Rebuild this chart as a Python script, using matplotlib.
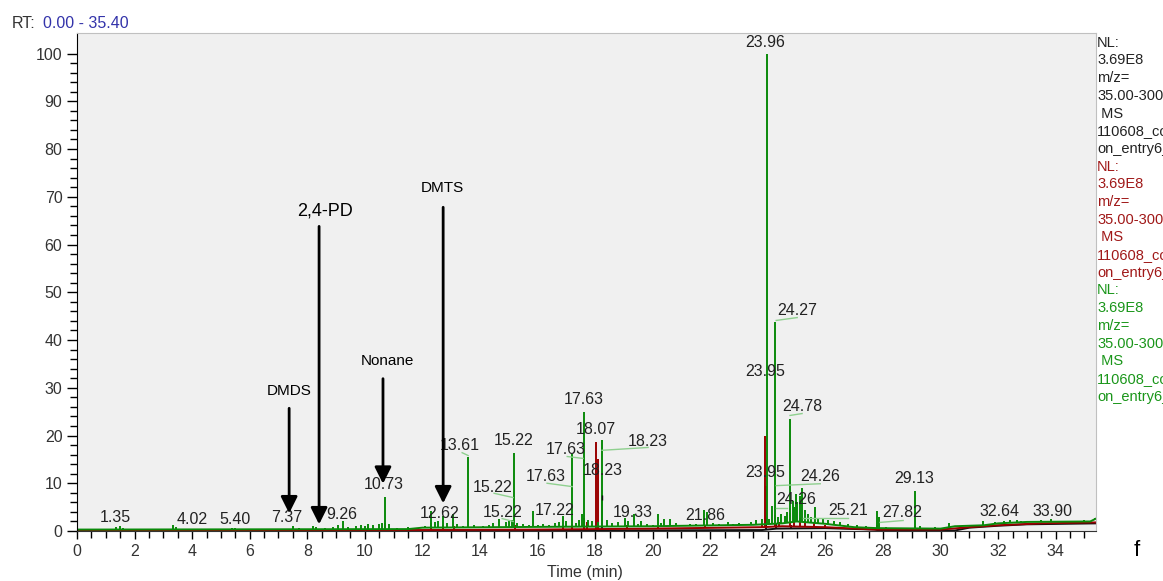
import numpy as np
import matplotlib.pyplot as plt

plt.rcParams['font.family'] = ['Liberation Sans', 'DejaVu Sans']

# chromatogram peaks (time in min, relative abundance %)
green_t = [1.35, 1.5, 1.6, 2.0, 2.4, 3.35, 3.45, 4.0, 4.6, 5.4, 5.5, 6.4, 7.1, 7.5, 7.7,
           8.2, 8.3, 8.6, 8.9, 9.05, 9.25, 9.4, 9.7, 9.85, 10.0, 10.1, 10.3, 10.5, 10.6,
           10.7, 10.85, 11.1, 11.5, 11.9, 12.1,
           12.3, 12.45, 12.55, 12.7, 12.85, 13.05, 13.2, 13.4, 13.58, 13.8, 14.1, 14.3,
           14.45, 14.65, 14.9, 15.0, 15.1, 15.17, 15.3, 15.5, 15.7, 15.83, 16.0, 16.2,
           16.4, 16.6, 16.75, 16.88, 17.0, 17.19, 17.35, 17.45, 17.53, 17.6, 17.75, 17.9,
           18.1, 18.23, 18.4, 18.6, 18.8, 19.03, 19.13, 19.34, 19.5, 19.58, 19.8, 20.0,
           20.17, 20.3, 20.4, 20.6, 20.8, 21.0, 21.3, 21.5, 21.77, 21.9, 22.1, 22.3, 22.6,
           22.8, 23.0, 23.2, 23.4, 23.6, 23.8, 23.96,
           24.05, 24.15, 24.24, 24.35, 24.45, 24.58, 24.65, 24.76, 24.86, 24.92, 24.97,
           25.03, 25.1, 25.2, 25.3, 25.4, 25.5, 25.63, 25.75, 25.9, 26.1, 26.3, 26.5, 26.8,
           27.1, 27.4, 27.78, 27.85, 28.1, 28.5, 29.1, 29.3, 29.8, 30.3, 30.8, 31.46, 31.9,
           32.2, 32.4, 32.64, 32.8, 33.2, 33.5, 33.85, 34.2, 34.6, 35.0, 35.35]
green_h = [0.9, 1.0, 0.6, 0.4, 0.4, 1.2, 0.9, 0.5, 0.4, 0.6, 0.7, 0.4, 0.5, 1.0, 0.6,
           1.1, 0.9, 0.6, 0.8, 1.3, 2.0, 0.8, 1.1, 1.2, 1.0, 1.5, 1.2, 1.4, 1.6,
           7.1, 1.5, 0.7, 0.9, 0.8, 1.0,
           4.2, 1.8, 2.0, 3.2, 1.6, 3.6, 1.4, 1.0, 15.4, 1.2, 1.1, 1.3,
           1.6, 2.5, 1.8, 2.0, 2.3, 16.4, 1.6, 1.4, 1.2, 4.2, 1.3, 1.5,
           1.2, 1.6, 1.8, 3.2, 2.0, 16.2, 1.7, 2.2, 3.6, 25.0, 2.2, 2.0,
           1.8, 19.0, 2.2, 1.6, 1.8, 2.8, 2.0, 3.5, 1.5, 2.0, 1.5, 1.2,
           3.5, 1.6, 2.5, 2.5, 1.7, 1.3, 1.4, 1.5, 4.4, 4.0, 1.6, 1.5, 1.8,
           1.4, 1.6, 1.4, 1.8, 2.2, 2.5, 100.0,
           2.5, 5.2, 43.7, 3.0, 3.5, 3.2, 4.0, 23.5, 6.3, 5.0, 7.7,
           6.0, 7.3, 9.1, 4.5, 3.5, 3.0, 5.0, 2.8, 2.5, 2.2, 2.0, 1.8, 1.5,
           1.2, 1.0, 4.2, 3.0, 0.9, 0.7, 8.4, 1.0, 0.8, 1.7, 1.2, 2.1, 1.8,
           2.1, 2.2, 2.3, 2.1, 2.1, 2.2, 2.5, 2.1, 2.1, 2.2, 2.7]
green_base_t = [0, 11.5, 12, 17, 20, 23.5, 24.5, 25, 26, 27, 27.8, 30, 30.5, 31.5, 32, 33, 35.2, 35.4]
green_base_h = [0.3, 0.4, 0.7, 0.9, 1.0, 1.3, 1.6, 2.0, 1.5, 0.8, 0.6, 0.5, 1.0, 1.2, 1.6, 1.9, 2.0, 2.6]

red_t = [3.4, 9.9, 10.1, 10.7, 12.3, 12.7, 13.1, 15.2, 16.9, 17.2, 17.6, 17.7, 18.02, 18.1,
         19.1, 20.2, 21.8, 23.8, 23.91, 24.24, 24.4, 24.76, 24.9, 25.1, 25.3, 25.6, 26.0,
         27.78, 29.1, 31.5, 32.6, 33.9]
red_h = [0.4, 0.5, 0.8, 1.6, 1.6, 1.3, 1.0, 1.3, 1.0, 1.5, 2.8, 1.8, 18.7, 15.0,
         1.2, 1.2, 1.3, 1.5, 20.0, 3.3, 1.8, 3.7, 2.4, 2.8, 2.0, 1.8, 1.3,
         1.3, 1.0, 0.9, 1.4, 1.7]
red_base_t = [0, 12, 16, 20, 23.8, 24.5, 26, 27.7, 30, 31, 32, 33.5, 35.4]
red_base_h = [0.1, 0.2, 0.3, 0.5, 0.8, 1.0, 0.8, 0.3, 0.3, 0.8, 1.2, 1.6, 1.8]

black_t = [12.3, 17.6, 18.23, 23.95, 24.27, 24.8, 29.1]
black_h = [0.5, 1.0, 7.5, 9.5, 1.5, 1.2, 0.7]
black_base_t = [0, 12, 18, 23.8, 24.3, 26, 27.7, 28, 30.5, 31, 32, 33, 35.4]
black_base_h = [0, 0.05, 0.1, 0.2, 0.5, 0.6, 0.3, 0.0, 0.1, 0.7, 1.1, 1.4, 1.6]

# peak labels: text, time, height of label centre
lab_text = ['1.35', '4.02', '5.40', '7.37', '9.26', '10.73', '12.62', '13.61', '15.22',
            '15.22', '15.22', '17.22', '17.63', '17.63', '17.63', '18.07', '18.23', '18.23',
            '19.33', '21.86', '23.96', '23.95', '23.95', '24.27', '24.78', '24.26', '24.26',
            '25.21', '27.82', '29.13', '32.64', '33.90']
lab_t = [1.32, 4.00, 5.49, 7.30, 9.21, 10.67, 12.61, 13.31, 15.18,
         14.45, 14.77, 16.61, 16.30, 16.99, 17.62, 18.03, 18.28, 19.84,
         19.32, 21.82, 23.91, 23.91, 23.91, 25.02, 25.19, 25.82, 24.98,
         26.79, 28.67, 29.08, 32.04, 33.88]
lab_h = [2.8, 2.4, 2.4, 2.8, 3.5, 9.7, 3.7, 17.9, 19.0,
         9.1, 3.9, 4.3, 11.4, 17.1, 27.5, 21.3, 12.7, 18.7,
         3.9, 3.2, 102.3, 33.4, 12.3, 46.2, 26.1, 11.4, 6.6,
         4.3, 3.9, 11.0, 4.1, 4.1]

# leader lines from peak to label (t0, h0, t1, h1)
lead_t0 = [13.38, 14.49, 14.77, 16.33, 17.03, 18.24, 24.29, 24.77, 24.29, 24.29, 25.23, 27.9]
lead_h0 = [16.4, 7.9, 2.6, 10.0, 15.6, 16.9, 44.1, 24.2, 9.5, 4.9, 2.8, 1.8]
lead_t1 = [13.59, 15.15, 15.15, 17.2, 17.58, 19.84, 25.02, 25.19, 25.82, 24.67, 26.79, 28.7]
lead_h1 = [15.8, 7.0, 2.0, 9.3, 15.2, 17.5, 44.7, 24.6, 9.9, 4.9, 2.8, 2.2]

# compound arrows: name, x, label height, arrow top, arrow tip, font size
cmp_name = ['DMDS', '2,4-PD', 'Nonane', 'DMTS']
cmp_t = [7.37, 8.41, 10.63, 12.72]
cmp_lab_t = [7.37, 8.61, 10.80, 12.68]
cmp_lab_h = [29.4, 67.0, 35.7, 71.9]
cmp_top = [25.7, 63.8, 31.9, 67.8]
cmp_tip = [3.7, 1.4, 9.9, 5.8]
cmp_size = [11, 13, 11, 11]

fig = plt.figure(figsize=(11.63, 5.81), dpi=100)
ax = fig.add_axes([77 / 1163, 1 - 531 / 581, 1019 / 1163, 498 / 581])
ax.set_facecolor('#f0f0f0')
ax.set_xlim(0, 35.4)
ax.set_ylim(0, 104.3)

traces = [
    (black_t, black_h, black_base_t, black_base_h, '#111111'),
    (red_t, red_h, red_base_t, red_base_h, '#990000'),
    (green_t, green_h, green_base_t, green_base_h, '#0a8a0a'),
]
for t, h, bt, bh, col in traces:
    ax.plot(bt, bh, color=col, lw=1.4, zorder=2)
    ax.vlines(t, np.interp(t, bt, bh), h, color=col, lw=1.4, zorder=2)
# black apex at 18.23 shows through the green peak
ax.vlines(black_t[2], 6.5, black_h[2], color='#111111', lw=1.0, zorder=3)

for t0, h0, t1, h1 in zip(lead_t0, lead_h0, lead_t1, lead_h1):
    ax.plot([t0, t1], [h0, h1], color='#8fd08f', lw=1, zorder=3)

for s, t, h in zip(lab_text, lab_t, lab_h):
    ax.text(t, h, s, ha='center', va='center', fontsize=11.5, color='#222222', zorder=4)

for name, t, lt, lh, top, tip, fs in zip(cmp_name, cmp_t, cmp_lab_t, cmp_lab_h,
                                        cmp_top, cmp_tip, cmp_size):
    ax.annotate('', xy=(t, tip), xytext=(t, top),
                arrowprops=dict(arrowstyle='-|>,head_width=0.5,head_length=1.0',
                                lw=2, color='black', mutation_scale=10,
                                shrinkA=0, shrinkB=0), zorder=5)
    ax.text(lt, lh, name, ha='center', va='center', fontsize=fs, color='black', zorder=5)

# axes styling
ax.spines['left'].set_color('black')
ax.spines['bottom'].set_color('#333333')
ax.spines['top'].set_color('#c0c0c0')
ax.spines['right'].set_color('#c0c0c0')
ax.set_xticks(np.arange(0, 35, 2))
ax.set_xticks(np.arange(0, 35.41, 0.5), minor=True)
ax.set_yticks(np.arange(0, 101, 10))
ax.set_yticks(np.arange(0, 101, 2), minor=True)
ax.tick_params(axis='y', which='major', length=7.5, width=1, pad=3, labelsize=11.5,
               labelcolor='#333333')
ax.tick_params(axis='y', which='minor', length=5, width=1)
ax.tick_params(axis='x', which='major', length=6, width=1, pad=3, labelsize=11.5,
               labelcolor='#333333')
ax.tick_params(axis='x', which='minor', length=5, width=1)

fig.text(585 / 1163, 1 - 573 / 581, 'Time (min)', ha='center', va='center',
         fontsize=11.5, color='#333333')
fig.text(12 / 1163, 1 - 24 / 581, 'RT:', ha='left', va='center', fontsize=11.5, color='#333333')
fig.text(43 / 1163, 1 - 24 / 581, '0.00 - 35.40', ha='left', va='center',
         fontsize=11.5, color='#3333aa')
fig.text(1137 / 1163, 1 - 550 / 581, 'f', ha='center', va='center', fontsize=16, color='black')

# trace header blocks on the right (cut by the figure edge, as in the instrument export)
info_lines = ['NL:', '3.69E8', 'm/z=', '35.00-300.00', ' MS', '110608_coll', 'on_entry6_1']
info_colors = ['#222222', '#a01818', '#1a961a']
row = 0
for col in info_colors:
    for line in info_lines:
        fig.text(1097 / 1163, 1 - (42.7 + row * 17.7) / 581, line, ha='left', va='center',
                 fontsize=10.5, color=col)
        row += 1

fig.savefig('out.png', dpi=100)
